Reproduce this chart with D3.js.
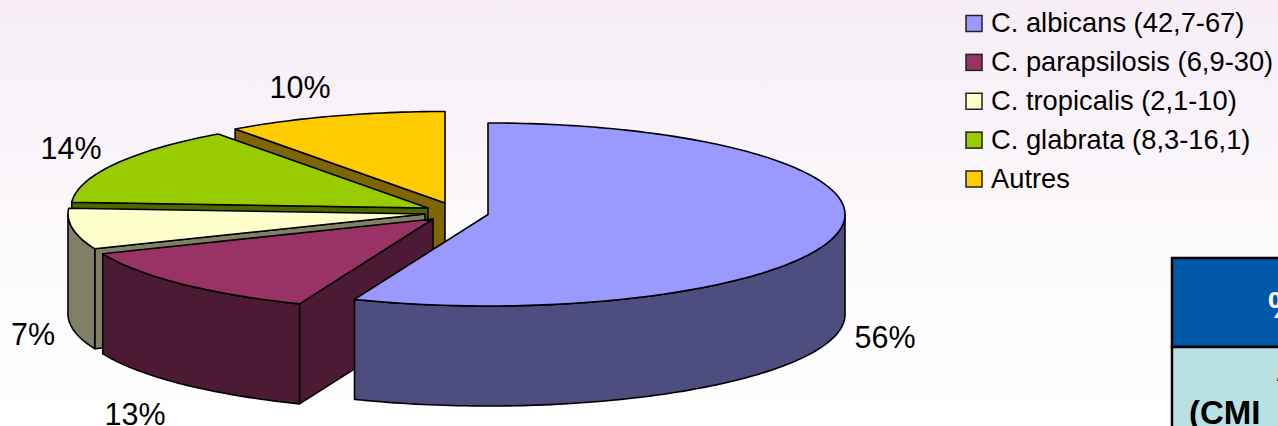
<!DOCTYPE html>
<html><head><meta charset="utf-8">
<script src="https://cdn.jsdelivr.net/npm/d3@7/dist/d3.min.js"></script>
<style>html,body{margin:0;padding:0;background:#fff;overflow:hidden}svg{display:block}text{font-family:"Liberation Sans",Arial,sans-serif}</style>
</head><body><svg id="c" width="1278" height="426"></svg>
<script>
const categories = ["C. albicans (42,7-67)","C. parapsilosis (6,9-30)","C. tropicalis (2,1-10)","C. glabrata (8,3-16,1)","Autres"];
const shares = [56.1,12.7,7.2,14,10];
const topColors = ["#9999FF","#993366","#FFFFCC","#99CC00","#FFCC00"];
const wallColors = ["#4D4D80","#4D1A33","#808066","#4D6600","#806600"];
const apexes = [[488,214.5],[433,219],[425,214],[428,208],[445,203]];
const labelSpots = [[885,348],[135,425],[33,345],[71,159],[300,98]];

const W=1278,H=426,RX=357,RY=91.5,DEPTH=100;
const svg=d3.select("#c");
const defs=svg.append("defs");
const g=defs.append("linearGradient").attr("id","bg").attr("x1",0).attr("y1",0).attr("x2",0).attr("y2",1);
g.append("stop").attr("offset",0).attr("stop-color","#F6EDF5");
g.append("stop").attr("offset",.55).attr("stop-color","#FCF9FC");
g.append("stop").attr("offset",1).attr("stop-color","#FFFFFF");
svg.append("rect").attr("width",W).attr("height",H).attr("fill","url(#bg)");

const arcs=d3.pie().sort(null).value(d=>d)(shares);
const xs=d3.scaleLinear().domain([-1,1]).range([-RX,RX]);
const ys=d3.scaleLinear().domain([-1,1]).range([RY,-RY]);
const pt=(c,a,dz=0)=>[c[0]+xs(Math.sin(a)),c[1]+ys(Math.cos(a))+dz];
const line=d3.line();
function rim(c,a0,a1,dz=0){const n=Math.max(2,Math.ceil((a1-a0)/0.02));return d3.range(n+1).map(i=>pt(c,a0+(a1-a0)*i/n,dz));}
const stroke={stroke:"#000","stroke-width":1.6,"stroke-linejoin":"round"};
function draw(d,fill,cls){const p=svg.append("path").attr("d",line(d)+"Z").attr("fill",fill).attr("class",cls);
  Object.entries(stroke).forEach(([k,v])=>p.attr(k,v));}

// painter's order: back slices first
d3.range(arcs.length-1,-1,-1).forEach(i=>{
  const a=arcs[i],c=apexes[i],a0=a.startAngle,a1=a.endAngle,w=wallColors[i];
  const below=[c[0],c[1]+DEPTH];
  if(a0>Math.PI/2+.01) draw([c,pt(c,a0),pt(c,a0,DEPTH),below],w,"wall");
  const f0=Math.max(a0,Math.PI/2),f1=Math.min(a1,3*Math.PI/2);
  if(f1>f0) draw([...rim(c,f0,f1),...rim(c,f0,f1,DEPTH).reverse()],w,"wall");
  draw([c,...rim(c,a0,a1)],topColors[i],"top");
});

// percentage labels
svg.append("g").selectAll("text").data(shares).join("text")
  .attr("x",(d,i)=>labelSpots[i][0]).attr("y",(d,i)=>labelSpots[i][1])
  .attr("text-anchor","middle").attr("font-size",30.5).attr("fill","#000").text(d=>Math.round(d)+"%");

// legend
const ly=d3.scalePoint().domain(categories).range([23.5,179]);
const lg=svg.append("g").selectAll("g").data(categories).join("g").attr("transform",d=>`translate(966,${ly(d)})`);
lg.append("rect").attr("x",0).attr("y",-8).attr("width",16).attr("height",16)
  .attr("fill",(d,i)=>topColors[i]).attr("stroke","#222").attr("stroke-width",1.5);
lg.append("text").attr("x",25).attr("y",8.5).attr("font-size",27.3).attr("fill","#000").text(d=>d);

// table fragment cut by the right edge
svg.append("rect").attr("x",1172).attr("y",258).attr("width",110).attr("height",89).attr("fill","#0059A8").attr("stroke","#000").attr("stroke-width",2.5);
svg.append("rect").attr("x",1172).attr("y",347).attr("width",110).attr("height",90).attr("fill","#B9E0E3").attr("stroke","#000").attr("stroke-width",2.5);
svg.append("text").attr("x",1268).attr("y",318).attr("font-size",36).attr("font-weight","bold").attr("fill","#fff").text("%");
svg.append("text").attr("x",1276).attr("y",381).attr("font-size",33).attr("font-weight","bold").attr("fill","#000").text("A");
svg.append("text").attr("x",1189).attr("y",424).attr("font-size",33).attr("font-weight","bold").attr("fill","#000").text("(CMI");
</script></body></html>
